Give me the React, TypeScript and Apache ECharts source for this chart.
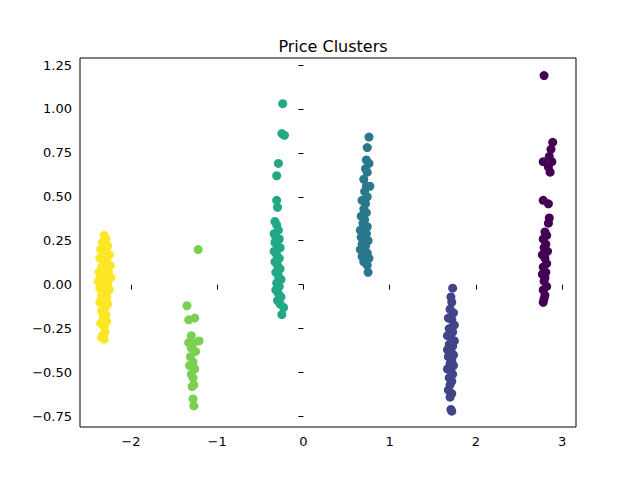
import * as echarts from "echarts";
import React, { useEffect, useRef } from "react";

const xTicks = [-2, -1, 0, 1, 2, 3];
const yTicks = [-0.75, -0.5, -0.25, 0, 0.25, 0.5, 0.75, 1.0, 1.25];
const clusterColors = ["#fde725", "#7ad151", "#22a884", "#2a788e", "#414487", "#440154"];

const yellow = [[-2.31,0.28],[-2.29,0.26],[-2.33,0.24],[-2.27,0.22],[-2.35,0.2],[-2.30,0.19],[-2.25,0.17],[-2.36,0.15],[-2.32,0.14],[-2.28,0.13],[-2.24,0.11],[-2.34,0.1],[-2.30,0.09],[-2.37,0.07],[-2.26,0.07],[-2.32,0.06],[-2.28,0.05],[-2.35,0.04],[-2.23,0.04],[-2.31,0.03],[-2.38,0.02],[-2.27,0.01],[-2.33,0.0],[-2.29,-0.01],[-2.36,-0.02],[-2.25,-0.03],[-2.31,-0.04],[-2.34,-0.06],[-2.28,-0.07],[-2.32,-0.09],[-2.36,-0.1],[-2.27,-0.11],[-2.30,-0.13],[-2.34,-0.15],[-2.29,-0.17],[-2.32,-0.19],[-2.28,-0.21],[-2.35,-0.22],[-2.31,-0.24],[-2.30,-0.27],[-2.33,-0.29],[-2.31,-0.31],[-2.34,-0.3]];
const lightGreen = [[-1.22,0.2],[-1.35,-0.12],[-1.33,-0.2],[-1.26,-0.19],[-1.30,-0.29],[-1.33,-0.33],[-1.27,-0.33],[-1.21,-0.32],[-1.30,-0.36],[-1.25,-0.38],[-1.31,-0.41],[-1.28,-0.44],[-1.32,-0.46],[-1.26,-0.48],[-1.30,-0.51],[-1.28,-0.53],[-1.27,-0.57],[-1.29,-0.58],[-1.28,-0.65],[-1.27,-0.69]];
const green = [[-0.24,1.03],[-0.25,0.86],[-0.22,0.85],[-0.29,0.69],[-0.31,0.62],[-0.31,0.48],[-0.30,0.44],[-0.33,0.36],[-0.31,0.34],[-0.29,0.31],[-0.34,0.29],[-0.32,0.27],[-0.28,0.26],[-0.33,0.24],[-0.30,0.22],[-0.27,0.21],[-0.34,0.19],[-0.31,0.17],[-0.28,0.15],[-0.33,0.13],[-0.30,0.11],[-0.27,0.09],[-0.32,0.07],[-0.29,0.05],[-0.26,0.03],[-0.31,0.01],[-0.28,-0.01],[-0.32,-0.03],[-0.29,-0.05],[-0.26,-0.07],[-0.30,-0.09],[-0.27,-0.11],[-0.23,-0.13],[-0.25,-0.17]];
const teal = [[0.76,0.84],[0.74,0.78],[0.73,0.71],[0.76,0.69],[0.72,0.66],[0.74,0.64],[0.70,0.6],[0.73,0.56],[0.77,0.56],[0.71,0.53],[0.74,0.5],[0.68,0.48],[0.72,0.46],[0.70,0.43],[0.73,0.41],[0.67,0.39],[0.71,0.37],[0.69,0.35],[0.74,0.33],[0.66,0.31],[0.70,0.3],[0.73,0.29],[0.67,0.27],[0.71,0.26],[0.75,0.25],[0.68,0.23],[0.72,0.22],[0.66,0.2],[0.70,0.19],[0.74,0.18],[0.68,0.16],[0.72,0.15],[0.76,0.15],[0.70,0.13],[0.74,0.11],[0.75,0.07]];
const indigo = [[1.73,-0.02],[1.71,-0.07],[1.72,-0.1],[1.70,-0.14],[1.74,-0.16],[1.68,-0.19],[1.72,-0.2],[1.75,-0.23],[1.69,-0.25],[1.73,-0.27],[1.67,-0.29],[1.71,-0.3],[1.75,-0.32],[1.69,-0.34],[1.73,-0.35],[1.67,-0.37],[1.71,-0.38],[1.74,-0.4],[1.68,-0.41],[1.72,-0.43],[1.70,-0.45],[1.74,-0.46],[1.67,-0.48],[1.71,-0.49],[1.73,-0.51],[1.69,-0.53],[1.72,-0.55],[1.70,-0.57],[1.68,-0.6],[1.72,-0.62],[1.70,-0.64],[1.71,-0.71],[1.72,-0.72]];
const purple = [[2.79,1.19],[2.89,0.81],[2.87,0.77],[2.85,0.73],[2.88,0.7],[2.78,0.7],[2.84,0.67],[2.86,0.64],[2.78,0.48],[2.84,0.46],[2.85,0.38],[2.84,0.35],[2.80,0.3],[2.82,0.28],[2.78,0.26],[2.81,0.23],[2.79,0.21],[2.83,0.19],[2.77,0.17],[2.80,0.15],[2.82,0.12],[2.78,0.1],[2.81,0.07],[2.77,0.06],[2.80,0.04],[2.79,0.02],[2.82,-0.01],[2.78,-0.03],[2.80,-0.06],[2.79,-0.08],[2.78,-0.1]];

const clusters = [yellow, lightGreen, green, teal, indigo, purple];

const axisCommon = {
    axisLine: { show: false },
    splitLine: { show: false },
    axisTick: { show: true, inside: false, length: 5, lineStyle: { color: "#000" } },
};

const App: React.FC = () => {
    const chartRef = useRef<HTMLDivElement>(null);

    useEffect(() => {
        document.body.style.margin = "0";
        if (!chartRef.current) return;
        const chart = echarts.init(chartRef.current, undefined, { renderer: "svg" });

        chart.setOption({
            animation: false,
            title: {
                text: "Price Clusters",
                left: 328,
                textAlign: "center",
                top: 33,
                textStyle: { fontFamily: "DejaVu Sans", fontSize: 16, fontWeight: "normal", color: "#000" },
            },
            grid: { left: 80, right: 64, top: 58, bottom: 53, show: true, borderColor: "#000", borderWidth: 1 },
            xAxis: {
                type: "value",
                min: -2.59,
                max: 3.16,
                ...axisCommon,
                axisTick: { ...axisCommon.axisTick, customValues: xTicks },
                axisLabel: {
                    customValues: xTicks,
                    color: "#000",
                    fontFamily: "DejaVu Sans",
                    fontSize: 13,
                    margin: 8,
                    formatter: (v: number) => (v < 0 ? "\u2212" + Math.abs(v) : String(v)),
                },
            },
            yAxis: {
                type: "value",
                min: -0.81,
                max: 1.29,
                ...axisCommon,
                axisTick: { ...axisCommon.axisTick, customValues: yTicks },
                axisLabel: {
                    customValues: yTicks,
                    color: "#000",
                    fontFamily: "DejaVu Sans",
                    fontSize: 13,
                    margin: 8,
                    formatter: (v: number) => (v < 0 ? "\u2212" + Math.abs(v).toFixed(2) : v.toFixed(2)),
                },
            },
            series: clusters.map((pts, i) => ({
                type: "scatter",
                data: pts,
                symbolSize: 9,
                itemStyle: { color: clusterColors[i], opacity: 1 },
            })),
        });

        return () => { chart.dispose(); };
    }, []);

    return <div ref={chartRef} style={{ width: 640, height: 480 }} />;
};

export default App;
